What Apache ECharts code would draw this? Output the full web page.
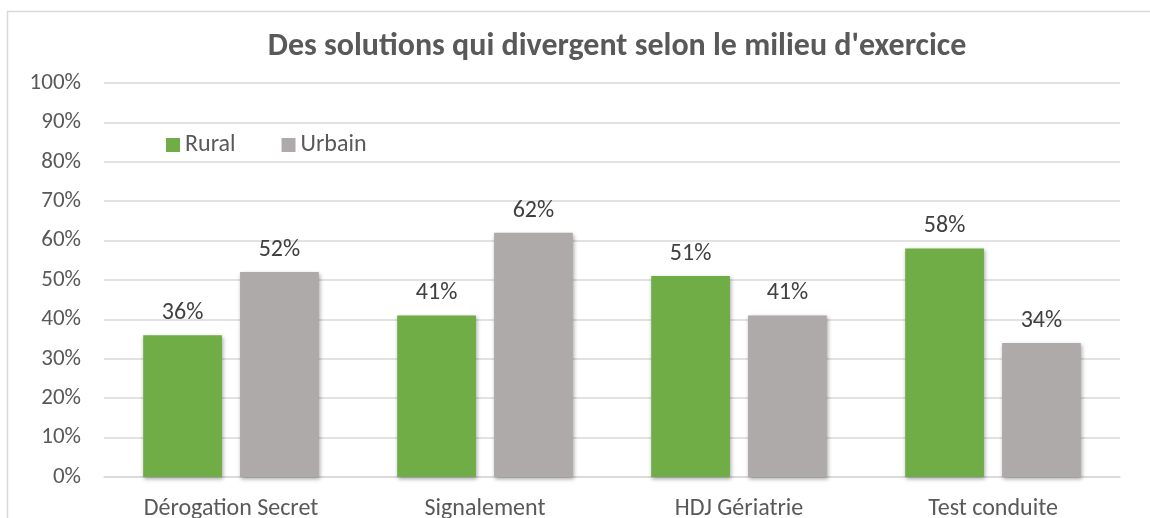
<!DOCTYPE html>
<html>
<head>
<meta charset="utf-8">
<title>Milieu d'exercice</title>
<script src="https://cdn.jsdelivr.net/npm/echarts@6/dist/echarts.min.js"></script>
</head>
<body style="margin:0">
<div id="main" style="width:1150px;height:518px;"></div>
<script type="text/javascript">
var categories = ['Dérogation Secret', 'Signalement', 'HDJ Gériatrie', 'Test conduite'];
var rural = [36, 41, 51, 58];
var urbain = [52, 62, 41, 34];
var yTicks = [0, 10, 20, 30, 40, 50, 60, 70, 80, 90, 100];

var textColor = '#595959';
var fontFam = 'Carlito, "Open Sans", "Noto Sans", sans-serif';
var barShadow = {shadowBlur: 4, shadowColor: 'rgba(0,0,0,0.35)', shadowOffsetY: 2, shadowOffsetX: 1};

var chart = echarts.init(document.getElementById('main'));
var option = {
    animation: false,
    backgroundColor: '#fff',
    textStyle: {fontFamily: fontFam},
    title: {
        text: "Des solutions qui divergent selon le milieu d'exercice",
        left: 612,
        textAlign: 'center',
        top: 26,
        textStyle: {fontSize: 32, fontWeight: 'bold', color: textColor, fontFamily: fontFam}
    },
    legend: {
        left: 161,
        top: 128,
        itemWidth: 14,
        itemHeight: 14,
        itemGap: 46,
        icon: 'rect',
        textStyle: {fontSize: 24, color: textColor},
        data: ['Rural', 'Urbain']
    },
    graphic: [{
        type: 'rect',
        shape: {x: 7.5, y: 11.5, width: 1300, height: 700},
        style: {fill: 'none', stroke: '#d9d9d9', lineWidth: 1.5},
        silent: true
    }],
    grid: {left: 104, right: 30, top: 83, bottom: 41, outerBoundsMode: 'none', containLabel: false},
    xAxis: {
        type: 'category',
        data: categories,
        axisTick: {show: false},
        axisLine: {lineStyle: {color: '#d9d9d9', width: 1.5}},
        axisLabel: {fontSize: 24, color: textColor, margin: 20}
    },
    yAxis: {
        type: 'value',
        min: yTicks[0],
        max: yTicks[yTicks.length - 1],
        interval: 10,
        axisLine: {show: false},
        axisTick: {show: false},
        splitLine: {lineStyle: {color: '#d9d9d9', width: 1.5}},
        axisLabel: {fontSize: 23, color: textColor, margin: 23, formatter: '{value}%'}
    },
    series: [{
        name: 'Rural',
        type: 'bar',
        data: rural,
        barWidth: '31%',
        barGap: '23%',
        itemStyle: Object.assign({color: '#70AD47'}, barShadow),
        label: {show: true, position: 'top', distance: 10, fontSize: 24, color: '#404040', formatter: '{c}%'}
    }, {
        name: 'Urbain',
        type: 'bar',
        data: urbain,
        barWidth: '31%',
        itemStyle: Object.assign({color: '#AEAAAA'}, barShadow),
        label: {show: true, position: 'top', distance: 10, fontSize: 24, color: '#404040', formatter: '{c}%'}
    }]
};
chart.setOption(option);
</script>
</body>
</html>
